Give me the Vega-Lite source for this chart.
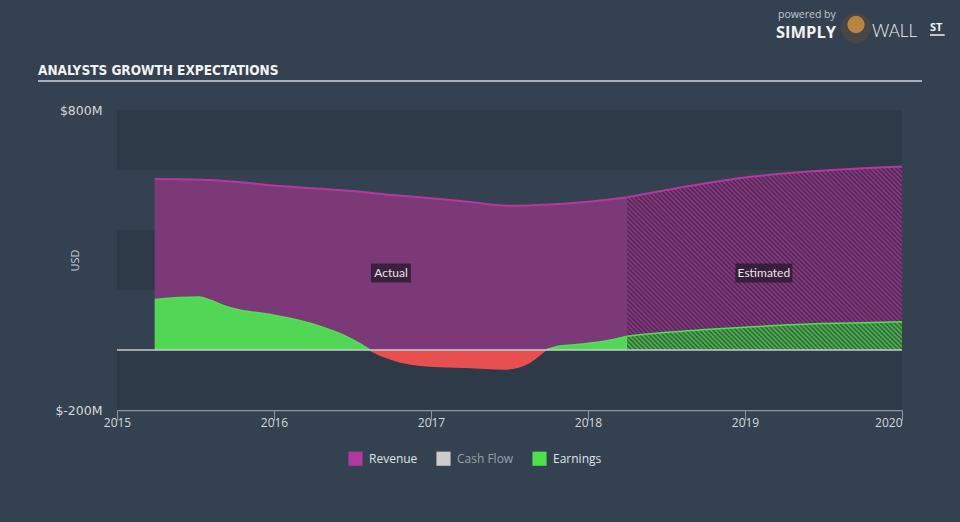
{
  "$schema": "https://vega.github.io/schema/vega-lite/v6.json",
  "width": 785,
  "height": 300,
  "autosize": {"type": "none"},
  "padding": {"left": 117, "top": 110, "right": 58, "bottom": 112},
  "background": "#344150",
  "title": {
    "text": "ANALYSTS GROWTH EXPECTATIONS",
    "anchor": "start",
    "frame": "group",
    "dx": -79,
    "offset": 0,
    "dy": 67,
    "font": "DejaVu Sans Condensed, sans-serif",
    "fontSize": 13.5,
    "fontWeight": "bold",
    "color": "#f2f2f2"
  },
  "config": {
    "view": {"stroke": null},
    "font": "Open Sans",
    "axis": {"grid": false}
  },
  "datasets": {
    "one": [{}],
    "bands": [
      {"lo": 600, "hi": 800},
      {"lo": 200, "hi": 400},
      {"lo": -200, "hi": 0}
    ],
    "rev": [
      {"year": 2015.24, "value": 570, "seg": "ra"},
      {"year": 2015.5, "value": 568, "seg": "ra"},
      {"year": 2015.75, "value": 561, "seg": "ra"},
      {"year": 2016.0, "value": 548, "seg": "ra"},
      {"year": 2016.25, "value": 539, "seg": "ra"},
      {"year": 2016.5, "value": 530, "seg": "ra"},
      {"year": 2016.75, "value": 517, "seg": "ra"},
      {"year": 2017.0, "value": 506, "seg": "ra"},
      {"year": 2017.25, "value": 493, "seg": "ra"},
      {"year": 2017.5, "value": 481, "seg": "ra"},
      {"year": 2017.75, "value": 485, "seg": "ra"},
      {"year": 2018.0, "value": 494, "seg": "ra"},
      {"year": 2018.25, "value": 509, "seg": "ra"},
      {"year": 2018.25, "value": 509, "seg": "re"},
      {"year": 2018.5, "value": 533, "seg": "re"},
      {"year": 2018.75, "value": 556, "seg": "re"},
      {"year": 2019.0, "value": 575, "seg": "re"},
      {"year": 2019.25, "value": 588, "seg": "re"},
      {"year": 2019.5, "value": 598, "seg": "re"},
      {"year": 2019.75, "value": 606, "seg": "re"},
      {"year": 2020.0, "value": 612, "seg": "re"}
    ],
    "earn": [
      {"year": 2015.24, "value": 168, "seg": "p1"},
      {"year": 2015.4, "value": 175, "seg": "p1"},
      {"year": 2015.52, "value": 177, "seg": "p1"},
      {"year": 2015.6, "value": 165, "seg": "p1"},
      {"year": 2015.68, "value": 148, "seg": "p1"},
      {"year": 2015.78, "value": 133, "seg": "p1"},
      {"year": 2015.9, "value": 124, "seg": "p1"},
      {"year": 2016.0, "value": 116, "seg": "p1"},
      {"year": 2016.15, "value": 100, "seg": "p1"},
      {"year": 2016.3, "value": 78, "seg": "p1"},
      {"year": 2016.45, "value": 48, "seg": "p1"},
      {"year": 2016.55, "value": 20, "seg": "p1"},
      {"year": 2016.61, "value": 0, "seg": "p1"},
      {"year": 2016.61, "value": 0, "seg": "n"},
      {"year": 2016.7, "value": -22, "seg": "n"},
      {"year": 2016.8, "value": -39, "seg": "n"},
      {"year": 2016.99, "value": -53, "seg": "n"},
      {"year": 2017.25, "value": -58, "seg": "n"},
      {"year": 2017.48, "value": -63, "seg": "n"},
      {"year": 2017.55, "value": -58, "seg": "n"},
      {"year": 2017.63, "value": -40, "seg": "n"},
      {"year": 2017.73, "value": 0, "seg": "n"},
      {"year": 2017.73, "value": 0, "seg": "p2"},
      {"year": 2017.82, "value": 13, "seg": "p2"},
      {"year": 2017.95, "value": 19, "seg": "p2"},
      {"year": 2018.1, "value": 29, "seg": "p2"},
      {"year": 2018.25, "value": 46, "seg": "p2"},
      {"year": 2018.25, "value": 46, "seg": "pe"},
      {"year": 2018.5, "value": 59, "seg": "pe"},
      {"year": 2018.75, "value": 68, "seg": "pe"},
      {"year": 2019.0, "value": 76, "seg": "pe"},
      {"year": 2019.25, "value": 83, "seg": "pe"},
      {"year": 2019.5, "value": 88, "seg": "pe"},
      {"year": 2019.75, "value": 91, "seg": "pe"},
      {"year": 2020.0, "value": 94, "seg": "pe"}
    ],
    "labels": [
      {"year": 2016.745, "value": 257, "label": "Actual"},
      {"year": 2019.12, "value": 257, "label": "Estimated"}
    ],
    "legend": [
      {"series": "Revenue"},
      {"series": "Cash Flow"},
      {"series": "Earnings"}
    ],
    "deco": [
      {"year": 2019.21, "value": 1116, "text": "powered by", "kind": "small"},
      {"year": 2019.197, "value": 1058, "text": "SIMPLY", "kind": "bold"},
      {"year": 2019.809, "value": 1060, "text": "WALL", "kind": "light"},
      {"year": 2020.178, "value": 1072, "text": "ST", "kind": "st"}
    ]
  },
  "layer": [
    {
      "data": {"name": "bands"},
      "mark": {"type": "rect", "color": "#2e3a48"},
      "encoding": {
        "y": {"field": "lo", "type": "quantitative", "scale": {"domain": [-200, 800], "nice": false, "zero": false},
          "axis": {
            "values": [-200, 800],
            "labelExpr": "'$' + datum.value + 'M'",
            "domain": false, "ticks": false,
            "labelPadding": 15,
            "labelColor": "#d4d8dd",
            "labelFont": "DejaVu Sans",
            "labelFontSize": 12.5,
            "title": "USD",
            "titleColor": "#c5cbd2",
            "titleFontSize": 11,
            "titleFontWeight": "normal",
            "titleX": -37,
            "titleY": 150
          }},
        "y2": {"field": "hi"}
      }
    },
    {
      "data": {"name": "rev"},
      "mark": {"type": "area", "interpolate": "monotone", "opacity": 1},
      "encoding": {
        "x": {"field": "year", "type": "quantitative",
          "scale": {"domain": [2015, 2020], "nice": false, "zero": false},
          "axis": {
            "values": [2015, 2016, 2017, 2018, 2019, 2020],
            "format": "d",
            "title": null,
            "labelFlush": false,
            "labelAlign": {"condition": {"test": "datum.value == 2020", "value": "right"}, "value": "center"},
            "labelColor": "#d4d8dd",
            "labelFontSize": 12,
            "labelPadding": -3,
            "tickSize": 10,
            "tickColor": "#8b97a5",
            "domainColor": "#8b97a5",
            "domainWidth": 1.5,
            "tickWidth": 1
          }},
        "y": {"field": "value", "type": "quantitative", "stack": null},
        "fill": {"field": "seg", "type": "nominal",
          "scale": {"domain": ["ra", "re", "p1", "n", "p2", "pe"], "range": ["#7b3a77", "#8f3b88", "#51d655", "#e8504f", "#51d655", "#4fbf52"]},
          "legend": null}
      }
    },
    {
      "data": {"name": "earn"},
      "mark": {"type": "area", "interpolate": "monotone"},
      "encoding": {
        "x": {"field": "year", "type": "quantitative"},
        "y": {"field": "value", "type": "quantitative", "stack": null},
        "fill": {"field": "seg", "type": "nominal",
          "scale": {"domain": ["ra", "re", "p1", "n", "p2", "pe"], "range": ["#7b3a77", "#8f3b88", "#51d655", "#e8504f", "#51d655", "#4fbf52"]},
          "legend": null}
      }
    },
    {
      "data": {"name": "rev"},
      "transform": [{"filter": "datum.seg == 're'"}],
      "mark": {"type": "area", "interpolate": "monotone",
        "color": {"gradient": "linear", "x1": 0, "y1": 1, "x2": 1.1555, "y2": 0.227, "stops": [
{"offset":0,"color":"rgba(28,24,40,0.6)"},{"offset":0.005,"color":"rgba(28,24,40,0)"},{"offset":0.01,"color":"rgba(28,24,40,0.6)"},{"offset":0.015,"color":"rgba(28,24,40,0)"},{"offset":0.02,"color":"rgba(28,24,40,0.6)"},{"offset":0.025,"color":"rgba(28,24,40,0)"},{"offset":0.03,"color":"rgba(28,24,40,0.6)"},{"offset":0.035,"color":"rgba(28,24,40,0)"},{"offset":0.04,"color":"rgba(28,24,40,0.6)"},{"offset":0.045,"color":"rgba(28,24,40,0)"},
{"offset":0.05,"color":"rgba(28,24,40,0.6)"},{"offset":0.055,"color":"rgba(28,24,40,0)"},{"offset":0.06,"color":"rgba(28,24,40,0.6)"},{"offset":0.065,"color":"rgba(28,24,40,0)"},{"offset":0.07,"color":"rgba(28,24,40,0.6)"},{"offset":0.075,"color":"rgba(28,24,40,0)"},{"offset":0.08,"color":"rgba(28,24,40,0.6)"},{"offset":0.085,"color":"rgba(28,24,40,0)"},{"offset":0.09,"color":"rgba(28,24,40,0.6)"},{"offset":0.095,"color":"rgba(28,24,40,0)"},
{"offset":0.1,"color":"rgba(28,24,40,0.6)"},{"offset":0.105,"color":"rgba(28,24,40,0)"},{"offset":0.11,"color":"rgba(28,24,40,0.6)"},{"offset":0.115,"color":"rgba(28,24,40,0)"},{"offset":0.12,"color":"rgba(28,24,40,0.6)"},{"offset":0.125,"color":"rgba(28,24,40,0)"},{"offset":0.13,"color":"rgba(28,24,40,0.6)"},{"offset":0.135,"color":"rgba(28,24,40,0)"},{"offset":0.14,"color":"rgba(28,24,40,0.6)"},{"offset":0.145,"color":"rgba(28,24,40,0)"},
{"offset":0.15,"color":"rgba(28,24,40,0.6)"},{"offset":0.155,"color":"rgba(28,24,40,0)"},{"offset":0.16,"color":"rgba(28,24,40,0.6)"},{"offset":0.165,"color":"rgba(28,24,40,0)"},{"offset":0.17,"color":"rgba(28,24,40,0.6)"},{"offset":0.175,"color":"rgba(28,24,40,0)"},{"offset":0.18,"color":"rgba(28,24,40,0.6)"},{"offset":0.185,"color":"rgba(28,24,40,0)"},{"offset":0.19,"color":"rgba(28,24,40,0.6)"},{"offset":0.195,"color":"rgba(28,24,40,0)"},
{"offset":0.2,"color":"rgba(28,24,40,0.6)"},{"offset":0.205,"color":"rgba(28,24,40,0)"},{"offset":0.21,"color":"rgba(28,24,40,0.6)"},{"offset":0.215,"color":"rgba(28,24,40,0)"},{"offset":0.22,"color":"rgba(28,24,40,0.6)"},{"offset":0.225,"color":"rgba(28,24,40,0)"},{"offset":0.23,"color":"rgba(28,24,40,0.6)"},{"offset":0.235,"color":"rgba(28,24,40,0)"},{"offset":0.24,"color":"rgba(28,24,40,0.6)"},{"offset":0.245,"color":"rgba(28,24,40,0)"},
{"offset":0.25,"color":"rgba(28,24,40,0.6)"},{"offset":0.255,"color":"rgba(28,24,40,0)"},{"offset":0.26,"color":"rgba(28,24,40,0.6)"},{"offset":0.265,"color":"rgba(28,24,40,0)"},{"offset":0.27,"color":"rgba(28,24,40,0.6)"},{"offset":0.275,"color":"rgba(28,24,40,0)"},{"offset":0.28,"color":"rgba(28,24,40,0.6)"},{"offset":0.285,"color":"rgba(28,24,40,0)"},{"offset":0.29,"color":"rgba(28,24,40,0.6)"},{"offset":0.295,"color":"rgba(28,24,40,0)"},
{"offset":0.3,"color":"rgba(28,24,40,0.6)"},{"offset":0.305,"color":"rgba(28,24,40,0)"},{"offset":0.31,"color":"rgba(28,24,40,0.6)"},{"offset":0.315,"color":"rgba(28,24,40,0)"},{"offset":0.32,"color":"rgba(28,24,40,0.6)"},{"offset":0.325,"color":"rgba(28,24,40,0)"},{"offset":0.33,"color":"rgba(28,24,40,0.6)"},{"offset":0.335,"color":"rgba(28,24,40,0)"},{"offset":0.34,"color":"rgba(28,24,40,0.6)"},{"offset":0.345,"color":"rgba(28,24,40,0)"},
{"offset":0.35,"color":"rgba(28,24,40,0.6)"},{"offset":0.355,"color":"rgba(28,24,40,0)"},{"offset":0.36,"color":"rgba(28,24,40,0.6)"},{"offset":0.365,"color":"rgba(28,24,40,0)"},{"offset":0.37,"color":"rgba(28,24,40,0.6)"},{"offset":0.375,"color":"rgba(28,24,40,0)"},{"offset":0.38,"color":"rgba(28,24,40,0.6)"},{"offset":0.385,"color":"rgba(28,24,40,0)"},{"offset":0.39,"color":"rgba(28,24,40,0.6)"},{"offset":0.395,"color":"rgba(28,24,40,0)"},
{"offset":0.4,"color":"rgba(28,24,40,0.6)"},{"offset":0.405,"color":"rgba(28,24,40,0)"},{"offset":0.41,"color":"rgba(28,24,40,0.6)"},{"offset":0.415,"color":"rgba(28,24,40,0)"},{"offset":0.42,"color":"rgba(28,24,40,0.6)"},{"offset":0.425,"color":"rgba(28,24,40,0)"},{"offset":0.43,"color":"rgba(28,24,40,0.6)"},{"offset":0.435,"color":"rgba(28,24,40,0)"},{"offset":0.44,"color":"rgba(28,24,40,0.6)"},{"offset":0.445,"color":"rgba(28,24,40,0)"},
{"offset":0.45,"color":"rgba(28,24,40,0.6)"},{"offset":0.455,"color":"rgba(28,24,40,0)"},{"offset":0.46,"color":"rgba(28,24,40,0.6)"},{"offset":0.465,"color":"rgba(28,24,40,0)"},{"offset":0.47,"color":"rgba(28,24,40,0.6)"},{"offset":0.475,"color":"rgba(28,24,40,0)"},{"offset":0.48,"color":"rgba(28,24,40,0.6)"},{"offset":0.485,"color":"rgba(28,24,40,0)"},{"offset":0.49,"color":"rgba(28,24,40,0.6)"},{"offset":0.495,"color":"rgba(28,24,40,0)"},
{"offset":0.5,"color":"rgba(28,24,40,0.6)"},{"offset":0.505,"color":"rgba(28,24,40,0)"},{"offset":0.51,"color":"rgba(28,24,40,0.6)"},{"offset":0.515,"color":"rgba(28,24,40,0)"},{"offset":0.52,"color":"rgba(28,24,40,0.6)"},{"offset":0.525,"color":"rgba(28,24,40,0)"},{"offset":0.53,"color":"rgba(28,24,40,0.6)"},{"offset":0.535,"color":"rgba(28,24,40,0)"},{"offset":0.54,"color":"rgba(28,24,40,0.6)"},{"offset":0.545,"color":"rgba(28,24,40,0)"},
{"offset":0.55,"color":"rgba(28,24,40,0.6)"},{"offset":0.555,"color":"rgba(28,24,40,0)"},{"offset":0.56,"color":"rgba(28,24,40,0.6)"},{"offset":0.565,"color":"rgba(28,24,40,0)"},{"offset":0.57,"color":"rgba(28,24,40,0.6)"},{"offset":0.575,"color":"rgba(28,24,40,0)"},{"offset":0.58,"color":"rgba(28,24,40,0.6)"},{"offset":0.585,"color":"rgba(28,24,40,0)"},{"offset":0.59,"color":"rgba(28,24,40,0.6)"},{"offset":0.595,"color":"rgba(28,24,40,0)"},
{"offset":0.6,"color":"rgba(28,24,40,0.6)"},{"offset":0.605,"color":"rgba(28,24,40,0)"},{"offset":0.61,"color":"rgba(28,24,40,0.6)"},{"offset":0.615,"color":"rgba(28,24,40,0)"},{"offset":0.62,"color":"rgba(28,24,40,0.6)"},{"offset":0.625,"color":"rgba(28,24,40,0)"},{"offset":0.63,"color":"rgba(28,24,40,0.6)"},{"offset":0.635,"color":"rgba(28,24,40,0)"},{"offset":0.64,"color":"rgba(28,24,40,0.6)"},{"offset":0.645,"color":"rgba(28,24,40,0)"},
{"offset":0.65,"color":"rgba(28,24,40,0.6)"},{"offset":0.655,"color":"rgba(28,24,40,0)"},{"offset":0.66,"color":"rgba(28,24,40,0.6)"},{"offset":0.665,"color":"rgba(28,24,40,0)"},{"offset":0.67,"color":"rgba(28,24,40,0.6)"},{"offset":0.675,"color":"rgba(28,24,40,0)"},{"offset":0.68,"color":"rgba(28,24,40,0.6)"},{"offset":0.685,"color":"rgba(28,24,40,0)"},{"offset":0.69,"color":"rgba(28,24,40,0.6)"},{"offset":0.695,"color":"rgba(28,24,40,0)"},
{"offset":0.7,"color":"rgba(28,24,40,0.6)"},{"offset":0.705,"color":"rgba(28,24,40,0)"},{"offset":0.71,"color":"rgba(28,24,40,0.6)"},{"offset":0.715,"color":"rgba(28,24,40,0)"},{"offset":0.72,"color":"rgba(28,24,40,0.6)"},{"offset":0.725,"color":"rgba(28,24,40,0)"},{"offset":0.73,"color":"rgba(28,24,40,0.6)"},{"offset":0.735,"color":"rgba(28,24,40,0)"},{"offset":0.74,"color":"rgba(28,24,40,0.6)"},{"offset":0.745,"color":"rgba(28,24,40,0)"},
{"offset":0.75,"color":"rgba(28,24,40,0.6)"},{"offset":0.755,"color":"rgba(28,24,40,0)"},{"offset":0.76,"color":"rgba(28,24,40,0.6)"},{"offset":0.765,"color":"rgba(28,24,40,0)"},{"offset":0.77,"color":"rgba(28,24,40,0.6)"},{"offset":0.775,"color":"rgba(28,24,40,0)"},{"offset":0.78,"color":"rgba(28,24,40,0.6)"},{"offset":0.785,"color":"rgba(28,24,40,0)"},{"offset":0.79,"color":"rgba(28,24,40,0.6)"},{"offset":0.795,"color":"rgba(28,24,40,0)"},
{"offset":0.8,"color":"rgba(28,24,40,0.6)"},{"offset":0.805,"color":"rgba(28,24,40,0)"},{"offset":0.81,"color":"rgba(28,24,40,0.6)"},{"offset":0.815,"color":"rgba(28,24,40,0)"},{"offset":0.82,"color":"rgba(28,24,40,0.6)"},{"offset":0.825,"color":"rgba(28,24,40,0)"},{"offset":0.83,"color":"rgba(28,24,40,0.6)"},{"offset":0.835,"color":"rgba(28,24,40,0)"},{"offset":0.84,"color":"rgba(28,24,40,0.6)"},{"offset":0.845,"color":"rgba(28,24,40,0)"},
{"offset":0.85,"color":"rgba(28,24,40,0.6)"},{"offset":0.855,"color":"rgba(28,24,40,0)"},{"offset":0.86,"color":"rgba(28,24,40,0.6)"},{"offset":0.865,"color":"rgba(28,24,40,0)"},{"offset":0.87,"color":"rgba(28,24,40,0.6)"},{"offset":0.875,"color":"rgba(28,24,40,0)"},{"offset":0.88,"color":"rgba(28,24,40,0.6)"},{"offset":0.885,"color":"rgba(28,24,40,0)"},{"offset":0.89,"color":"rgba(28,24,40,0.6)"},{"offset":0.895,"color":"rgba(28,24,40,0)"},
{"offset":0.9,"color":"rgba(28,24,40,0.6)"},{"offset":0.905,"color":"rgba(28,24,40,0)"},{"offset":0.91,"color":"rgba(28,24,40,0.6)"},{"offset":0.915,"color":"rgba(28,24,40,0)"},{"offset":0.92,"color":"rgba(28,24,40,0.6)"},{"offset":0.925,"color":"rgba(28,24,40,0)"},{"offset":0.93,"color":"rgba(28,24,40,0.6)"},{"offset":0.935,"color":"rgba(28,24,40,0)"},{"offset":0.94,"color":"rgba(28,24,40,0.6)"},{"offset":0.945,"color":"rgba(28,24,40,0)"},
{"offset":0.95,"color":"rgba(28,24,40,0.6)"},{"offset":0.955,"color":"rgba(28,24,40,0)"},{"offset":0.96,"color":"rgba(28,24,40,0.6)"},{"offset":0.965,"color":"rgba(28,24,40,0)"},{"offset":0.97,"color":"rgba(28,24,40,0.6)"},{"offset":0.975,"color":"rgba(28,24,40,0)"},{"offset":0.98,"color":"rgba(28,24,40,0.6)"},{"offset":0.985,"color":"rgba(28,24,40,0)"},{"offset":0.99,"color":"rgba(28,24,40,0.6)"},{"offset":0.995,"color":"rgba(28,24,40,0)"},
{"offset":1,"color":"rgba(28,24,40,0.6)"}
        ]}},
      "encoding": {
        "x": {"field": "year", "type": "quantitative"},
        "y": {"field": "value", "type": "quantitative", "stack": null}
      }
    },
    {
      "data": {"name": "rev"},
      "mark": {"type": "line", "interpolate": "monotone", "color": "#b4399f", "strokeWidth": 2},
      "encoding": {
        "x": {"field": "year", "type": "quantitative"},
        "y": {"field": "value", "type": "quantitative", "stack": null},
        "detail": {"field": "seg"}
      }
    },
    {
      "data": {"name": "earn"},
      "mark": {"type": "line", "interpolate": "monotone", "strokeWidth": 1.5},
      "encoding": {
        "x": {"field": "year", "type": "quantitative"},
        "y": {"field": "value", "type": "quantitative", "stack": null},
        "stroke": {"field": "seg", "type": "nominal",
          "scale": {"domain": ["p1", "n", "p2", "pe"], "range": ["#55dd58", "#e8504f", "#55dd58", "#55dd58"]},
          "legend": null}
      }
    },
    {
      "data": {"name": "one"},
      "mark": {"type": "rule", "color": "#c9cbce", "strokeWidth": 1.5},
      "encoding": {"y": {"datum": 0}}
    },
    {
      "data": {"name": "labels"},
      "transform": [{"filter": "datum.label == 'Actual'"}],
      "mark": {"type": "point", "shape": "M-1,-0.475H1V0.475H-1Z", "size": 1600, "filled": true, "color": "#2a1a2d", "opacity": 0.8},
      "encoding": {
        "x": {"field": "year", "type": "quantitative"},
        "y": {"field": "value", "type": "quantitative"}
      }
    },
    {
      "data": {"name": "labels"},
      "transform": [{"filter": "datum.label == 'Estimated'"}],
      "mark": {"type": "point", "shape": "M-1,-0.333H1V0.333H-1Z", "size": 3249, "filled": true, "color": "#2a1a2d", "opacity": 0.8},
      "encoding": {
        "x": {"field": "year", "type": "quantitative"},
        "y": {"field": "value", "type": "quantitative"}
      }
    },
    {
      "data": {"name": "labels"},
      "mark": {"type": "text", "color": "#e8e2ea", "fontSize": 12, "font": "Lato"},
      "encoding": {
        "x": {"field": "year", "type": "quantitative"},
        "y": {"field": "value", "type": "quantitative"},
        "text": {"field": "label"}
      }
    },
    {
      "data": {"name": "legend"},
      "mark": {"type": "square", "opacity": 0},
      "encoding": {
        "color": {"field": "series", "type": "nominal",
          "scale": {"domain": ["Revenue", "Cash Flow", "Earnings"], "range": ["#b0399c", "#cccccc", "#4fe04f"]},
          "legend": {
            "title": null,
            "orient": "none",
            "legendX": 231,
            "legendY": 341,
            "direction": "horizontal",
            "symbolType": "square",
            "symbolSize": 200,
            "symbolStrokeWidth": 0,
            "labelFontSize": 12,
            "labelOffset": 6,
            "columnPadding": 18,
            "padding": 0,
            "labelColor": "#dfe3e8",
            "encode": {
              "symbols": {"update": {"opacity": {"value": 1}}},
              "labels": {"update": {"fill": {"signal": "datum.label === 'Cash Flow' ? '#98a1ab' : '#dfe3e8'"}}}
            }
          }}
      }
    },
    {
      "data": {"name": "one"},
      "mark": {"type": "rule", "color": "#a9b0b9", "strokeWidth": 2},
      "encoding": {
        "x": {"datum": 2014.497},
        "x2": {"datum": 2020.127},
        "y": {"datum": 897}
      }
    },
    {
      "data": {"name": "one"},
      "mark": {"type": "point", "shape": "circle", "size": 900, "filled": true, "color": "#474747", "opacity": 1},
      "encoding": {"x": {"datum": 2019.707}, "y": {"datum": 1073}}
    },
    {
      "data": {"name": "one"},
      "mark": {"type": "point", "shape": "circle", "size": 300, "filled": true, "color": "#b9853d", "opacity": 1},
      "encoding": {"x": {"datum": 2019.707}, "y": {"datum": 1085}}
    },
    {
      "data": {"name": "one"},
      "mark": {"type": "rule", "color": "#f2f2f2", "strokeWidth": 1.5},
      "encoding": {
        "x": {"datum": 2020.178},
        "x2": {"datum": 2020.272},
        "y": {"datum": 1050}
      }
    },
    {
      "data": {"name": "deco"},
      "transform": [{"filter": "datum.kind == 'small'"}],
      "mark": {"type": "text", "align": "left", "color": "#c3c9cf", "fontSize": 10.5, "font": "Open Sans"},
      "encoding": {"x": {"field": "year", "type": "quantitative"}, "y": {"field": "value", "type": "quantitative"}, "text": {"field": "text"}}
    },
    {
      "data": {"name": "deco"},
      "transform": [{"filter": "datum.kind == 'bold'"}],
      "mark": {"type": "text", "align": "left", "color": "#f2f2f2", "fontSize": 16.5, "fontWeight": "bold", "font": "Open Sans"},
      "encoding": {"x": {"field": "year", "type": "quantitative"}, "y": {"field": "value", "type": "quantitative"}, "text": {"field": "text"}}
    },
    {
      "data": {"name": "deco"},
      "transform": [{"filter": "datum.kind == 'light'"}],
      "mark": {"type": "text", "align": "left", "color": "#f2f2f2", "fontSize": 17, "fontWeight": 300, "font": "Lato", "letterSpacing": 4},
      "encoding": {"x": {"field": "year", "type": "quantitative"}, "y": {"field": "value", "type": "quantitative"}, "text": {"field": "text"}}
    },
    {
      "data": {"name": "deco"},
      "transform": [{"filter": "datum.kind == 'st'"}],
      "mark": {"type": "text", "align": "left", "color": "#f2f2f2", "fontSize": 11, "fontWeight": "bold", "font": "Open Sans"},
      "encoding": {"x": {"field": "year", "type": "quantitative"}, "y": {"field": "value", "type": "quantitative"}, "text": {"field": "text"}}
    }
  ]
}
